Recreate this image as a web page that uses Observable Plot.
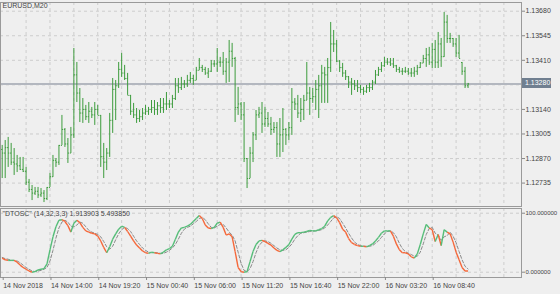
<!DOCTYPE html>
<html><head><meta charset="utf-8">
<script src="https://cdn.jsdelivr.net/npm/d3@7"></script>
<script src="https://cdn.jsdelivr.net/npm/@observablehq/plot@0.6"></script>
<style>
html,body{margin:0;padding:0;background:#efefef;}
#chart{position:relative;width:560px;height:294px;overflow:hidden;background:#efefef;font-family:"Liberation Sans",Arial,sans-serif;}
#main{position:absolute;left:0;top:0;}
#ind{position:absolute;left:0;top:207px;}
#pricebox{position:absolute;left:522px;width:29px;height:10px;background:#707f90;color:#fff;font-size:7px;line-height:10px;padding-left:3px;box-sizing:border-box;}
</style></head>
<body><div id="chart"><div id="main"></div><div id="ind"></div><div id="pricebox"></div></div>
<script>
const symbolLabel = "EURUSD,M20";
const indicatorName = '"DTOSC" (14,32,3,3)';

const high = [
1.12942,1.12969,1.12986,1.12953,1.12925,1.12887,1.12876,1.12876,1.12821,1.12755,
1.12722,1.12711,1.12711,1.12705,1.12694,1.12711,1.12788,1.12887,1.12870,1.12942,
1.13107,1.13035,1.12980,1.13041,1.13475,1.13398,1.13255,1.13200,1.13162,1.13178,
1.13151,1.13178,1.13162,1.13107,1.12953,1.12925,1.13118,1.13310,1.13299,1.13398,
1.13448,1.13382,1.13338,1.13217,1.13173,1.13145,1.13134,1.13145,1.13162,1.13151,
1.13189,1.13189,1.13178,1.13200,1.13200,1.13233,1.13189,1.13217,1.13310,1.13310,
1.13316,1.13299,1.13327,1.13343,1.13327,1.13371,1.13420,1.13382,1.13371,1.13365,
1.13409,1.13409,1.13475,1.13426,1.13453,1.13420,1.13519,1.13503,1.13426,1.13261,
1.13178,1.13178,1.12870,1.12931,1.13013,1.13134,1.13151,1.13178,1.13151,1.13123,
1.13096,1.13068,1.13068,1.13090,1.13145,1.13035,1.13068,1.13255,1.13200,1.13217,
1.13200,1.13217,1.13398,1.13261,1.13255,1.13299,1.13327,1.13382,1.13371,1.13420,
1.13618,1.13574,1.13519,1.13409,1.13393,1.13354,1.13321,1.13310,1.13299,1.13299,
1.13272,1.13261,1.13272,1.13283,1.13299,1.13354,1.13371,1.13398,1.13426,1.13420,
1.13420,1.13420,1.13382,1.13371,1.13365,1.13371,1.13365,1.13365,1.13371,1.13382,
1.13398,1.13437,1.13475,1.13481,1.13503,1.13519,1.13563,1.13530,1.13673,1.13657,
1.13558,1.13530,1.13530,1.13547,1.13398,1.13371,1.13283];
const low = [
1.12760,1.12760,1.12821,1.12832,1.12777,1.12793,1.12804,1.12793,1.12722,1.12683,
1.12639,1.12667,1.12650,1.12656,1.12628,1.12639,1.12711,1.12766,1.12821,1.12832,
1.12942,1.12931,1.12843,1.12898,1.12980,1.13178,1.13068,1.13063,1.13079,1.13063,
1.13090,1.13052,1.13107,1.12821,1.12760,1.12804,1.12876,1.13008,1.13079,1.13255,
1.13316,1.13299,1.13217,1.13107,1.13090,1.13063,1.13068,1.13079,1.13107,1.13107,
1.13118,1.13107,1.13107,1.13118,1.13118,1.13134,1.13145,1.13145,1.13189,1.13228,
1.13244,1.13255,1.13261,1.13283,1.13272,1.13299,1.13354,1.13343,1.13327,1.13310,
1.13343,1.13371,1.13343,1.13371,1.13327,1.13283,1.13288,1.13371,1.13068,1.13107,
1.13079,1.12848,1.12705,1.12760,1.12848,1.12969,1.13090,1.13008,1.13041,1.13041,
1.12997,1.13008,1.12876,1.12876,1.12903,1.12942,1.12969,1.12997,1.13134,1.13090,
1.13068,1.13079,1.13189,1.13107,1.13173,1.13134,1.13090,1.13173,1.13173,1.13173,
1.13343,1.13453,1.13398,1.13343,1.13316,1.13299,1.13255,1.13217,1.13244,1.13233,
1.13228,1.13217,1.13228,1.13233,1.13244,1.13277,1.13321,1.13343,1.13371,1.13382,
1.13376,1.13365,1.13343,1.13338,1.13327,1.13338,1.13327,1.13316,1.13316,1.13327,
1.13365,1.13393,1.13371,1.13382,1.13365,1.13365,1.13365,1.13371,1.13426,1.13503,
1.13503,1.13481,1.13426,1.13420,1.13327,1.13255,1.13255];
const open = [
1.12920,1.12900,1.12930,1.12900,1.12850,1.12840,1.12830,1.12810,1.12800,1.12740,
1.12700,1.12680,1.12690,1.12670,1.12680,1.12650,1.12711,1.12770,1.12860,1.12850,
1.12942,1.13030,1.12950,1.12900,1.13000,1.13330,1.13230,1.13120,1.13140,1.13100,
1.13130,1.13110,1.13140,1.13107,1.12880,1.12850,1.12900,1.13080,1.13250,1.13270,
1.13360,1.13340,1.13310,1.13217,1.13130,1.13110,1.13090,1.13100,1.13120,1.13130,
1.13140,1.13150,1.13140,1.13160,1.13150,1.13170,1.13170,1.13170,1.13200,1.13270,
1.13260,1.13280,1.13280,1.13300,1.13310,1.13300,1.13355,1.13370,1.13360,1.13340,
1.13350,1.13390,1.13390,1.13400,1.13400,1.13350,1.13400,1.13460,1.13420,1.13150,
1.13170,1.13110,1.12870,1.12760,1.12900,1.13000,1.13110,1.13120,1.13060,1.13090,
1.13060,1.13030,1.13040,1.12950,1.13000,1.13030,1.13000,1.13040,1.13180,1.13170,
1.13120,1.13140,1.13190,1.13230,1.13200,1.13210,1.13250,1.13270,1.13340,1.13330,
1.13370,1.13500,1.13500,1.13405,1.13370,1.13340,1.13320,1.13290,1.13280,1.13270,
1.13260,1.13250,1.13240,1.13260,1.13260,1.13290,1.13330,1.13360,1.13380,1.13400,
1.13400,1.13390,1.13380,1.13360,1.13350,1.13350,1.13350,1.13340,1.13340,1.13350,
1.13370,1.13395,1.13420,1.13440,1.13400,1.13470,1.13400,1.13500,1.13430,1.13620,
1.13530,1.13530,1.13500,1.13450,1.13398,1.13350,1.13270];
const close = [
1.12900,1.12930,1.12900,1.12850,1.12840,1.12830,1.12810,1.12800,1.12740,1.12700,
1.12680,1.12690,1.12670,1.12680,1.12650,1.12711,1.12770,1.12860,1.12850,1.12942,
1.13030,1.12950,1.12900,1.13000,1.13330,1.13230,1.13120,1.13140,1.13100,1.13130,
1.13110,1.13140,1.13107,1.12880,1.12850,1.12900,1.13080,1.13250,1.13270,1.13360,
1.13340,1.13310,1.13217,1.13130,1.13110,1.13090,1.13100,1.13120,1.13130,1.13140,
1.13150,1.13140,1.13160,1.13150,1.13170,1.13170,1.13170,1.13200,1.13270,1.13260,
1.13280,1.13280,1.13300,1.13310,1.13300,1.13355,1.13370,1.13360,1.13340,1.13350,
1.13390,1.13390,1.13400,1.13400,1.13350,1.13400,1.13460,1.13420,1.13150,1.13170,
1.13110,1.12870,1.12760,1.12900,1.13000,1.13110,1.13120,1.13060,1.13090,1.13060,
1.13030,1.13040,1.12950,1.13000,1.13030,1.13000,1.13040,1.13180,1.13170,1.13120,
1.13140,1.13190,1.13230,1.13200,1.13210,1.13250,1.13270,1.13340,1.13330,1.13370,
1.13500,1.13500,1.13405,1.13370,1.13340,1.13320,1.13290,1.13280,1.13270,1.13260,
1.13250,1.13240,1.13260,1.13260,1.13290,1.13330,1.13360,1.13380,1.13400,1.13400,
1.13390,1.13380,1.13360,1.13350,1.13350,1.13350,1.13340,1.13340,1.13350,1.13370,
1.13395,1.13420,1.13440,1.13400,1.13470,1.13400,1.13500,1.13430,1.13620,1.13530,
1.13530,1.13500,1.13450,1.13420,1.13350,1.13270,1.13280];

const dtosc = [
24,21,20,20,20,17,12,8,5,2,
0,1,4,5,6,14,38,60,77,88,
89,86,79,68,83,88,84,76,70,68,
66,65,61,53,42,33,43,56,65,73,
78,76,69,61,53,46,41,36,33,32,
34,33,32,31,34,38,40,44,56,68,
75,76,78,81,86,91,96,91,80,75,
74,76,83,85,76,63,65,60,35,8,
1,0,1,18,35,47,53,54,52,49,
46,41,37,35,38,42,47,56,64,67,
67,68,69,71,70,70,72,74,78,87,
93,96,92,84,73,68,57,50,47,45,
44,44,43,45,48,53,59,66,70,70,
70,61,48,38,33,33,31,26,24,31,
47,65,81,75,72,52,64,45,72,68,
65,51,34,21,8,2,1.913903];
const signal = [
25,23,22,20,20,19,16,12,8,5,
2,1,2,3,5,8,19,37,58,75,
85,88,85,78,77,80,85,83,77,71,
68,66,64,60,52,43,39,44,55,65,
72,76,74,69,61,53,47,41,37,34,
33,33,33,32,32,34,37,41,47,56,
66,73,76,78,82,86,91,93,89,82,
76,75,78,81,81,75,68,63,53,34,
15,3,1,6,18,33,45,51,53,52,
49,45,41,38,37,38,42,48,56,62,
66,67,68,69,70,70,71,72,75,80,
86,92,94,91,83,75,66,58,51,47,
45,44,44,44,45,49,53,59,65,69,
70,67,60,49,40,35,32,30,27,27,
34,48,64,74,76,66,63,54,60,62,
68,61,50,35,21,10,5.493850];

const priceTicks = [1.13680, 1.13545, 1.13410, 1.13140, 1.13005, 1.12870, 1.12735];
const priceGrid = [1.13680, 1.13545, 1.13410, 1.13275, 1.13140, 1.13005, 1.12870, 1.12735];
const oscLevels = [0, 100];
const gridIndex = [8,16,24,32,40,48,56,64,72,80,88,96,104,112,120,128,136,144,152,160,168];
const timeTickIndex = [0,16,32,48,64,80,96,112,128,144];
const timeTickLabels = ["14 Nov 2018","14 Nov 14:00","14 Nov 19:20","15 Nov 00:40","15 Nov 06:00",
  "15 Nov 11:20","15 Nov 16:40","15 Nov 22:00","16 Nov 03:20","16 Nov 08:40"];

const barColor = "#3d9c3d";
const upColor = "#55bd78";
const downColor = "#f5683a";
const gridColor = "#cdcdcd";
const frameColor = "#9a9a9a";
const font = "'Liberation Sans', Arial, sans-serif";
const xDomain = [-0.57, 173.9];

const bars = high.map((h, i) => ({i, high: h, low: low[i], open: open[i], close: close[i]}));
const last = close[close.length - 1];

const mainPlot = Plot.plot({
  width: 560, height: 207,
  marginLeft: 0, marginRight: 39, marginTop: 2, marginBottom: 1,
  style: {background: "transparent", fontFamily: font, fontSize: "7px", color: "#333", overflow: "visible"},
  x: {domain: xDomain, axis: null},
  y: {domain: [1.126063, 1.137278], axis: null},
  marks: [
    Plot.gridY(priceGrid, {stroke: gridColor, strokeOpacity: 1, strokeDasharray: "3,3"}),
    Plot.gridX(gridIndex, {stroke: gridColor, strokeOpacity: 1, strokeDasharray: "3,3"}),
    Plot.ruleY([last], {stroke: "#b3b7bf", strokeWidth: 2}),
    Plot.ruleX(bars, {x: "i", y1: "low", y2: "high", stroke: barColor, strokeWidth: 1}),
    Plot.link(bars, {x1: d => d.i - 0.36, x2: "i", y1: "open", y2: "open", stroke: barColor}),
    Plot.link(bars, {x1: "i", x2: d => d.i + 0.36, y1: "close", y2: "close", stroke: barColor}),
    Plot.frame({stroke: frameColor}),
    Plot.axisY(priceTicks, {anchor: "right", tickSize: 3, tickPadding: 1, tickFormat: d3.format(".5f"), fontSize: 7, stroke: "#888", fill: "#444"}),
    Plot.text([symbolLabel], {frameAnchor: "top-left", dx: 2, dy: 1, fontSize: 7, fill: "#444"})
  ]
});
document.getElementById("main").appendChild(mainPlot);

const box = document.getElementById("pricebox");
box.textContent = d3.format(".5f")(last);
box.style.top = (mainPlot.scale("y").apply(last) - 5) + "px";

const osc = dtosc.map((v, i) => ({i, v, s: signal[i]}));
const segs = osc.slice(1).map((d, k) => ({x1: osc[k].i, y1: osc[k].v, x2: d.i, y2: d.v, up: d.v >= d.s}));
const fmt6 = d3.format(".6f");

const indPlot = Plot.plot({
  width: 560, height: 87,
  marginLeft: 0, marginRight: 39, marginTop: 1, marginBottom: 17,
  style: {background: "transparent", fontFamily: font, fontSize: "7px", color: "#333", overflow: "visible"},
  x: {domain: xDomain, axis: null},
  y: {domain: [-9, 108], axis: null},
  marks: [
    Plot.gridY(oscLevels, {stroke: gridColor, strokeOpacity: 1, strokeDasharray: "3,3"}),
    Plot.gridX(gridIndex, {stroke: gridColor, strokeOpacity: 1, strokeDasharray: "3,3"}),
    Plot.line(osc, {x: "i", y: "s", stroke: "#8a8a8a", strokeWidth: 1, strokeDasharray: "3,2"}),
    Plot.link(segs, {x1: "x1", y1: "y1", x2: "x2", y2: "y2", stroke: d => d.up ? upColor : downColor, strokeWidth: 1.4}),
    Plot.frame({stroke: frameColor}),
    Plot.axisY(oscLevels, {anchor: "right", tickSize: 3, tickPadding: 1, tickFormat: fmt6, fontSize: 6, stroke: "#888", fill: "#444"}),
    Plot.axisX(timeTickIndex, {anchor: "bottom", tickSize: 3, tickPadding: 3, textAnchor: "start", dx: 1,
      tickFormat: d => timeTickLabels[timeTickIndex.indexOf(d)], fontSize: 7, stroke: "#888", fill: "#444"}),
    Plot.text([indicatorName + " " + fmt6(dtosc[dtosc.length - 1]) + " " + fmt6(signal[signal.length - 1])],
      {frameAnchor: "top-left", dx: 2, dy: 3, fontSize: 7, fill: "#444"})
  ]
});
document.getElementById("ind").appendChild(indPlot);
</script>
</body></html>
